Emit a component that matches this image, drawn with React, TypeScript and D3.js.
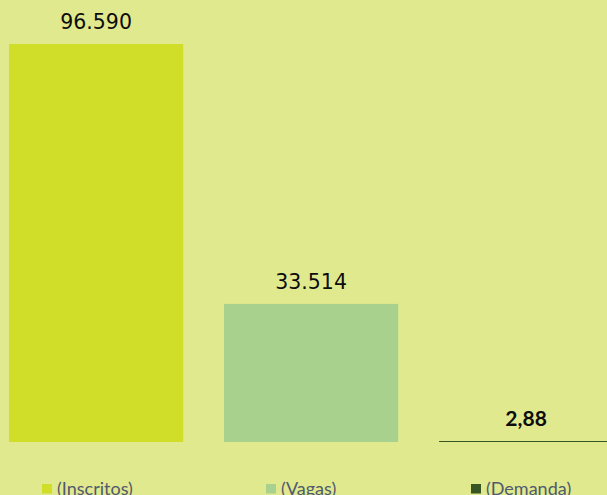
import React from "react";
import * as d3 from "d3";

const categories = ["(Inscritos)", "(Vagas)", "(Demanda)"];
const values = [96590, 33514, 2.88];
const valueLabels = ["96.590", "33.514", "2,88"];
const colors = ["#d0de2a", "#a9d18e", "#375623"];

const width = 607;
const height = 495;
const baseY = 442;
const topY = 44;

const App = () => {
  // band scale: step 215, bars 174 wide, first bar at x=9
  const x = d3
    .scaleBand<string>()
    .domain(categories)
    .range([-11.4, 633.6])
    .paddingInner(0.19)
    .paddingOuter(0.095);

  const y = d3.scaleLinear().domain([0, values[0]]).range([baseY, topY]);

  const legendX = [42, 266, 471];

  return (
    <div style={{ position: "fixed", left: 0, top: 0, width, height, overflow: "hidden" }}>
      <svg width={width} height={height} style={{ display: "block", background: "#e1e98e" }}>
        {categories.map((c, i) => {
          const h = Math.max(1, baseY - y(values[i]));
          const bx = x(c)!;
          const bold = i === 2;
          return (
            <g key={c}>
              <rect x={bx} y={baseY - h} width={x.bandwidth()} height={h} fill={colors[i]} />
              <text
                x={bx + x.bandwidth() / 2}
                y={baseY - h - 15}
                textAnchor="middle"
                fontFamily={bold ? "Lato" : "DejaVu Sans"}
                fontWeight={bold ? "bold" : "normal"}
                fontSize={bold ? 21 : 20.5}
                fill="#0d0d0d"
              >
                {valueLabels[i]}
              </text>
            </g>
          );
        })}
        {categories.map((c, i) => (
          <g key={"l" + c} transform={`translate(${legendX[i]},484)`}>
            <rect width={10} height={9.5} fill={colors[i]} />
            <text x={15} y={10.5} fontFamily="Lato" fontSize={18} fill="#4f5a6e">
              {c}
            </text>
          </g>
        ))}
      </svg>
    </div>
  );
};

export default App;
